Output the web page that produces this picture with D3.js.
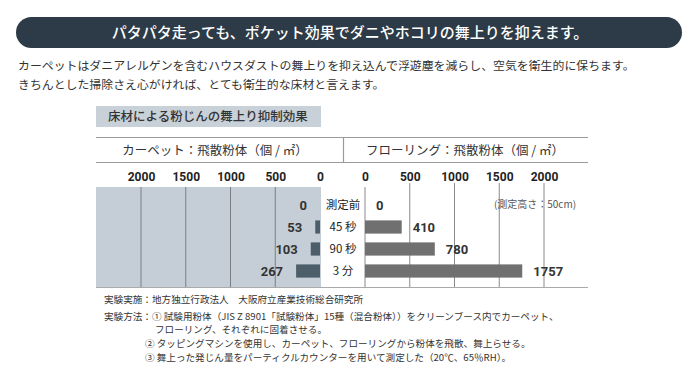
<!DOCTYPE html>
<html><head><meta charset="utf-8">
<script src="https://cdn.jsdelivr.net/npm/d3@7"></script>
<style>
html,body{margin:0;padding:0;background:#fff;}
svg{display:block;font-family:"Noto Sans CJK JP","Noto Sans",sans-serif;}
</style></head>
<body>
<svg id="c" width="700" height="377"></svg>
<script>
const categories = ["測定前", "45 秒", "90 秒", "3 分"];
const carpetValues = [0, 53, 103, 267];
const flooringValues = [0, 410, 780, 1757];
const tickValues = [0, 500, 1000, 1500, 2000];
const titleText = "パタパタ走っても、ポケット効果でダニやホコリの舞上りを抑えます。";
const introLines = ["カーペットはダニアレルゲンを含むハウスダストの舞上りを抑え込んで浮遊塵を減らし、空気を衛生的に保ちます。",
                    "きちんとした掃除さえ心がければ、とても衛生的な床材と言えます。"];
const chartTitle = "床材による粉じんの舞上り抑制効果";
const carpetHeader = "カーペット：飛散粉体（個 / ㎡）";
const flooringHeader = "フローリング：飛散粉体（個 / ㎡）";
const heightNote = "(測定高さ：50cm)";
const footLines = [
  "実験実施：地方独立行政法人　大阪府立産業技術総合研究所",
  "実験方法：① 試験用粉体（JIS Z 8901「試験粉体」15種（混合粉体））をクリーンブース内でカーペット、",
  "フローリング、それぞれに固着させる。",
  "② タッピングマシンを使用し、カーペット、フローリングから粉体を飛散、舞上らせる。",
  "③ 舞上った発じん量をパーティクルカウンターを用いて測定した（20℃、65％RH）。"
];

(function(){
const svg = d3.select("#c");
const numFont = '"Liberation Sans Narrow","Roboto","Noto Sans",sans-serif';

// Title pill
svg.append("rect").attr("x",16).attr("y",17).attr("width",666).attr("height",31)
  .attr("rx",15.5).attr("fill","#2c3b47");
svg.append("text").attr("x",350).attr("y",38).attr("text-anchor","middle")
  .attr("fill","#fff").attr("font-size",15).attr("font-weight",500).text(titleText);

introLines.forEach((t,i)=>{
  svg.append("text").attr("x",18).attr("y",70+i*19).attr("font-size",11.9)
    .attr("fill","#333").text(t);
});

// chart title box
svg.append("rect").attr("x",96).attr("y",106).attr("width",225).attr("height",21).attr("fill","#c8d0d8");
svg.append("text").attr("x",108).attr("y",121).attr("font-size",12.5).attr("font-weight",500)
  .attr("fill","#333").text(chartTitle);

// header lines
const lineColor = "#9a9a9a";
svg.append("line").attr("x1",96).attr("x2",588).attr("y1",137.5).attr("y2",137.5).attr("stroke",lineColor).attr("stroke-width",1.2);
svg.append("line").attr("x1",96).attr("x2",588).attr("y1",162.5).attr("y2",162.5).attr("stroke",lineColor).attr("stroke-width",1.2);
svg.append("line").attr("x1",343.5).attr("x2",343.5).attr("y1",137).attr("y2",162).attr("stroke",lineColor).attr("stroke-width",1.2);
svg.append("text").attr("x",215).attr("y",155).attr("text-anchor","middle").attr("font-size",12.5).attr("fill","#333").text(carpetHeader);
svg.append("text").attr("x",465).attr("y",155).attr("text-anchor","middle").attr("font-size",12.5).attr("fill","#333").text(flooringHeader);

// scales
const xL = d3.scaleLinear().domain([0,2000]).range([320,141]);
const xR = d3.scaleLinear().domain([0,2000]).range([365,544]);
const y = d3.scaleBand().domain(categories).range([194,282]).paddingInner(0.4).paddingOuter(0.2);
const plotTop = 187, plotBottom = 287;

// left panel background
svg.append("rect").attr("x",96).attr("y",plotTop).attr("width",xL(0)-96+1).attr("height",plotBottom-plotTop).attr("fill","#c5ced6");

// gridlines
svg.append("g").selectAll("line").data(tickValues.filter(d=>d>0)).join("line")
  .attr("x1",d=>xL(d)).attr("x2",d=>xL(d)).attr("y1",plotTop).attr("y2",plotBottom)
  .attr("stroke","#7a7f84").attr("stroke-width",1);
svg.append("g").selectAll("line").data(tickValues).join("line")
  .attr("x1",d=>xR(d)).attr("x2",d=>xR(d)).attr("y1",d=>d===0?plotTop:183).attr("y2",plotBottom)
  .attr("stroke","#8a8a8a").attr("stroke-width",1);
svg.append("line").attr("x1",96).attr("x2",588).attr("y1",plotBottom+0.5).attr("y2",plotBottom+0.5).attr("stroke","#aaa").attr("stroke-width",1);

// axes (tick labels)
[d3.axisTop(xL), d3.axisTop(xR)].forEach(ax=>{
  ax.tickValues(tickValues).tickFormat(d3.format("d")).tickSize(0).tickPadding(0);
  const g = svg.append("g").attr("transform","translate(0,181)").call(ax);
  g.select(".domain").remove();
  g.selectAll("text").attr("font-family",numFont).attr("font-weight","bold")
    .attr("font-size",12).attr("fill","#222");
});

// bars
svg.append("g").selectAll("rect").data(carpetValues).join("rect")
  .attr("x",d=>xL(d)).attr("y",(d,i)=>y(categories[i])).attr("width",d=>xL(0)-xL(d))
  .attr("height",y.bandwidth()).attr("fill","#4c5e6a");
svg.append("g").selectAll("rect").data(flooringValues).join("rect")
  .attr("x",xR(0)).attr("y",(d,i)=>y(categories[i])).attr("width",d=>xR(d)-xR(0))
  .attr("height",y.bandwidth()).attr("fill","#707070");

// value labels
svg.append("g").selectAll("text").data(carpetValues).join("text")
  .attr("x",d=>xL(d)-13).attr("y",(d,i)=>y(categories[i])+y.bandwidth()/2+4.5)
  .attr("text-anchor","end").attr("font-family",numFont).attr("font-weight","bold")
  .attr("font-size",13).attr("fill","#333").text(d=>d);
svg.append("g").selectAll("text").data(flooringValues).join("text")
  .attr("x",d=>xR(d)+11).attr("y",(d,i)=>y(categories[i])+y.bandwidth()/2+4.5)
  .attr("font-family",numFont).attr("font-weight","bold")
  .attr("font-size",13).attr("fill","#333").text(d=>d);

// category labels
svg.append("g").selectAll("text").data(categories).join("text")
  .attr("x",343).attr("y",d=>y(d)+y.bandwidth()/2+4)
  .attr("text-anchor","middle").attr("font-size",11.5).attr("fill","#222").text(d=>d);

svg.append("text").attr("x",535).attr("y",208).attr("text-anchor","middle")
  .attr("font-size",10).attr("fill","#555").text(heightNote);

// footer
const footPos = [[104,303],[104,320],[155,333],[145,347],[145,361]];
footLines.forEach((t,i)=>{
  svg.append("text").attr("x",footPos[i][0]).attr("y",footPos[i][1]).attr("font-size",9.6)
    .attr("fill","#333").text(t);
});
})();
</script>
</body></html>
